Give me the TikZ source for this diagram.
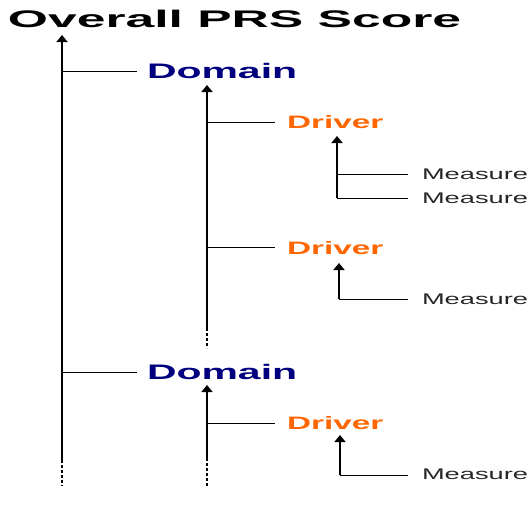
\documentclass[tikz,border=0pt]{standalone}
\usepackage{fontspec}
\setmainfont{Liberation Sans}
\usetikzlibrary{arrows.meta}
\definecolor{domblue}{HTML}{00007F}
\definecolor{drvorange}{HTML}{FF6600}
\tikzset{
  lbltxt/.style={anchor=base west, inner sep=0pt, outer sep=0pt},
  titletxt/.style={lbltxt, font=\fontsize{24}{24}\selectfont\bfseries},
  domtxt/.style={lbltxt, text=domblue, font=\fontsize{21}{21}\selectfont\bfseries},
  drvtxt/.style={lbltxt, text=drvorange, font=\fontsize{18}{18}\selectfont\bfseries},
  meastxt/.style={lbltxt, text=black!85, font=\fontsize{15.4}{15.4}\selectfont},
  trunkline/.style={line width=2pt, -{Triangle[width=11pt,length=7pt]}},
  tailline/.style={line width=2pt, dash pattern=on 3pt off 2pt},
  branchline/.style={line width=1pt},
}
\begin{document}
\begin{tikzpicture}[x=1pt,y=-1pt]
\useasboundingbox (0,0) rectangle (532,512);
% texts
\node[titletxt] (ov) at (8,27) {\scalebox{2.15}[1]{Overall PRS Score}};
\node[domtxt] (dom1) at (147,78) {\scalebox{1.95}[1]{Domain}};
\node[drvtxt] (drv1) at (287,128) {\scalebox{1.85}[1]{Driver}};
\node[meastxt] (m11) at (422,179) {\scalebox{1.77}[1]{Measure}};
\node[meastxt] (m12) at (422,203) {\scalebox{1.77}[1]{Measure}};
\node[drvtxt] (drv2) at (287,254) {\scalebox{1.85}[1]{Driver}};
\node[meastxt] (m21) at (422,304) {\scalebox{1.77}[1]{Measure}};
\node[domtxt] (dom2) at (147,379) {\scalebox{1.95}[1]{Domain}};
\node[drvtxt] (drv3) at (287,429) {\scalebox{1.85}[1]{Driver}};
\node[meastxt] (m31) at (422,479) {\scalebox{1.77}[1]{Measure}};
% coordinates: main trunk
\coordinate (t0top) at (62,35);
\coordinate (t0bot) at (62,460);
\coordinate (t0end) at (62,486);
\coordinate (t0a) at (62,71);
\coordinate (t0b) at (62,372);
\coordinate (e0a) at (137,71);
\coordinate (e0b) at (137,372);
% domain 1 trunk
\coordinate (t1top) at (207,85);
\coordinate (t1bot) at (207,328);
\coordinate (t1end) at (207,348);
\coordinate (t1a) at (207,122);
\coordinate (t1b) at (207,247);
\coordinate (e1a) at (275,122);
\coordinate (e1b) at (275,247);
% domain 2 trunk
\coordinate (t2top) at (207,385);
\coordinate (t2bot) at (207,458);
\coordinate (t2end) at (207,486);
\coordinate (t2a) at (207,423);
\coordinate (e2a) at (275,423);
% driver trunks
\coordinate (d1top) at (337,136);
\coordinate (d1a) at (337,174);
\coordinate (d1b) at (337,198);
\coordinate (f1a) at (408,174);
\coordinate (f1b) at (408,198);
\coordinate (d2top) at (339,263);
\coordinate (d2a) at (339,299);
\coordinate (f2a) at (408,299);
\coordinate (d3top) at (340,435);
\coordinate (d3a) at (340,475);
\coordinate (f3a) at (408,475);
% main trunk
\draw[trunkline] (t0bot) -- (t0top);
\draw[tailline] (t0bot) -- (t0end);
\draw[branchline] (t0a) -- (e0a);
\draw[branchline] (t0b) -- (e0b);
% domain 1
\draw[trunkline] (t1bot) -- (t1top);
\draw[tailline] (t1bot) -- (t1end);
\draw[branchline] (t1a) -- (e1a);
\draw[branchline] (t1b) -- (e1b);
% domain 2
\draw[trunkline] (t2bot) -- (t2top);
\draw[tailline] (t2bot) -- (t2end);
\draw[branchline] (t2a) -- (e2a);
% drivers
\draw[trunkline] (d1b) -- (d1top);
\draw[branchline] (d1a) -- (f1a);
\draw[branchline] (d1b) -- (f1b);
\draw[trunkline] (d2a) -- (d2top);
\draw[branchline] (d2a) -- (f2a);
\draw[trunkline] (d3a) -- (d3top);
\draw[branchline] (d3a) -- (f3a);
\end{tikzpicture}
\end{document}
